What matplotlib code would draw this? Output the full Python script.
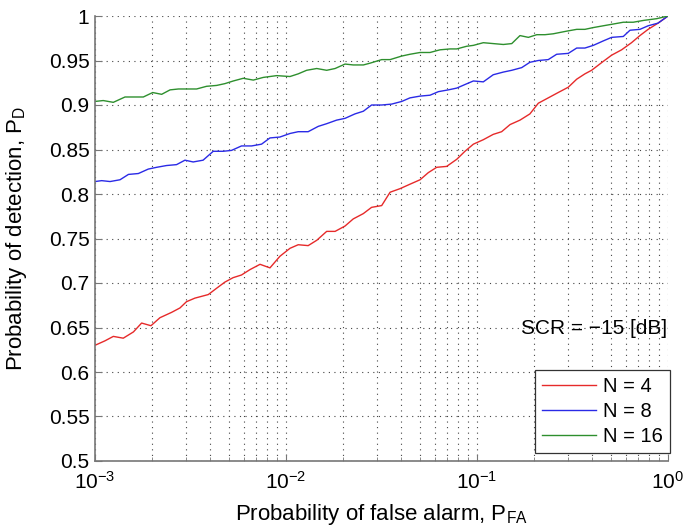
import matplotlib
matplotlib.use("Agg")
import matplotlib.pyplot as plt
import numpy as np
from matplotlib.ticker import LogLocator, FixedLocator, NullFormatter

plt.rcParams['font.family'] = ['Liberation Sans', 'DejaVu Sans']
plt.rcParams['mathtext.fontset'] = 'custom'
plt.rcParams['mathtext.rm'] = 'Liberation Sans'
plt.rcParams['mathtext.it'] = 'Liberation Sans'
plt.rcParams['mathtext.bf'] = 'Liberation Sans'

# log10(PFA) and PD
logp_n4 = [-3.000, -2.948, -2.904, -2.852, -2.799, -2.756, -2.707, -2.660, -2.599, -2.555,
           -2.521, -2.477, -2.407, -2.364, -2.320, -2.277, -2.233, -2.189, -2.136, -2.084,
           -2.032, -1.979, -1.936, -1.884, -1.839, -1.787, -1.743, -1.691, -1.648, -1.595,
           -1.552, -1.499, -1.455, -1.403, -1.351, -1.298, -1.255, -1.211, -1.159, -1.106,
           -1.063, -1.019, -0.967, -0.915, -0.871, -0.827, -0.775, -0.723, -0.679, -0.627,
           -0.575, -0.522, -0.478, -0.435, -0.400, -0.339, -0.295, -0.243, -0.191, -0.147,
           -0.104, -0.052, 0.0]
pd_n4 = [0.630, 0.635, 0.640, 0.638, 0.645, 0.655, 0.652, 0.661, 0.667, 0.672,
         0.679, 0.683, 0.687, 0.694, 0.701, 0.706, 0.709, 0.715, 0.721, 0.717,
         0.730, 0.739, 0.743, 0.742, 0.748, 0.758, 0.758, 0.764, 0.772, 0.778,
         0.785, 0.787, 0.802, 0.806, 0.811, 0.816, 0.824, 0.830, 0.831, 0.839,
         0.848, 0.856, 0.861, 0.867, 0.870, 0.878, 0.883, 0.890, 0.902, 0.908,
         0.914, 0.920, 0.929, 0.935, 0.939, 0.949, 0.956, 0.962, 0.970, 0.978,
         0.985, 0.992, 1.000]

logp_n8 = [-3.000, -2.965, -2.921, -2.869, -2.825, -2.773, -2.721, -2.677, -2.625, -2.573,
           -2.529, -2.486, -2.434, -2.381, -2.329, -2.285, -2.233, -2.180, -2.128, -2.084,
           -2.032, -1.979, -1.936, -1.884, -1.831, -1.787, -1.735, -1.691, -1.639, -1.595,
           -1.552, -1.499, -1.447, -1.394, -1.351, -1.298, -1.246, -1.202, -1.150, -1.106,
           -1.063, -1.019, -0.967, -0.915, -0.862, -0.818, -0.766, -0.723, -0.679, -0.627,
           -0.583, -0.522, -0.478, -0.435, -0.391, -0.339, -0.295, -0.234, -0.199, -0.147,
           -0.104, -0.052, 0.0]
pd_n8 = [0.814, 0.815, 0.814, 0.816, 0.822, 0.823, 0.828, 0.830, 0.832, 0.833,
         0.838, 0.836, 0.838, 0.848, 0.848, 0.849, 0.854, 0.854, 0.856, 0.863,
         0.864, 0.868, 0.870, 0.870, 0.876, 0.879, 0.883, 0.885, 0.890, 0.893,
         0.900, 0.900, 0.901, 0.904, 0.908, 0.910, 0.911, 0.915, 0.917, 0.919,
         0.923, 0.927, 0.926, 0.934, 0.937, 0.939, 0.942, 0.948, 0.950, 0.951,
         0.957, 0.958, 0.964, 0.964, 0.967, 0.972, 0.976, 0.977, 0.984, 0.985,
         0.989, 0.992, 1.000]

logp_n16 = [-3.000, -2.957, -2.904, -2.843, -2.799, -2.747, -2.698, -2.651, -2.607, -2.563,
            -2.520, -2.468, -2.416, -2.363, -2.320, -2.276, -2.224, -2.171, -2.119, -2.084,
            -2.049, -1.979, -1.936, -1.892, -1.839, -1.787, -1.743, -1.691, -1.648, -1.595,
            -1.560, -1.499, -1.455, -1.394, -1.351, -1.298, -1.246, -1.194, -1.141, -1.106,
            -1.054, -1.019, -0.967, -0.915, -0.862, -0.818, -0.775, -0.731, -0.687, -0.644,
            -0.601, -0.530, -0.478, -0.435, -0.391, -0.339, -0.286, -0.234, -0.182, -0.129,
            -0.059, 0.0]
pd_n16 = [0.904, 0.905, 0.903, 0.909, 0.909, 0.909, 0.914, 0.912, 0.917, 0.918,
          0.918, 0.918, 0.921, 0.922, 0.924, 0.927, 0.930, 0.928, 0.931, 0.932,
          0.933, 0.932, 0.935, 0.939, 0.941, 0.939, 0.941, 0.946, 0.945, 0.945,
          0.947, 0.951, 0.951, 0.955, 0.957, 0.959, 0.959, 0.962, 0.963, 0.963,
          0.966, 0.967, 0.970, 0.969, 0.968, 0.969, 0.978, 0.976, 0.979, 0.979,
          0.980, 0.983, 0.985, 0.985, 0.987, 0.989, 0.991, 0.993, 0.993, 0.995,
          0.997, 1.000]

labels = ['N = 4', 'N = 8', 'N = 16']
colors = ['#e62a2a', '#2a2ae6', '#2e8f2e']
y_ticks = [0.5, 0.55, 0.6, 0.65, 0.7, 0.75, 0.8, 0.85, 0.9, 0.95, 1.0]

fig = plt.figure(figsize=(6.85, 5.27), dpi=100)
ax = fig.add_axes([95 / 685, 1 - 461 / 527, 573 / 685, 445 / 527])

series = [(logp_n4, pd_n4), (logp_n8, pd_n8), (logp_n16, pd_n16)]
for (lp, pd), lab, c in zip(series, labels, colors):
    ax.plot(10 ** np.array(lp), pd, color=c, lw=1.0, label=lab)

ax.set_xscale('log')
ax.set_xlim(1e-3, 1)
ax.set_ylim(0.5, 1)
ax.yaxis.set_major_locator(FixedLocator(y_ticks))
ax.set_yticklabels(['%g' % v for v in y_ticks])
ax.xaxis.set_major_locator(LogLocator(base=10, numticks=10))
ax.xaxis.set_minor_locator(LogLocator(base=10, subs=np.arange(2, 10), numticks=10))
ax.xaxis.set_minor_formatter(NullFormatter())

ax.grid(True, which='major', linestyle=(0, (1, 4)), color='#444444', lw=0.8)
ax.grid(True, which='minor', axis='x', linestyle=(0, (1, 4)), color='#444444', lw=0.8)

for s in ['top', 'right']:
    ax.spines[s].set_visible(False)
for s in ['left', 'bottom']:
    ax.spines[s].set_color('#777777')
    ax.spines[s].set_linewidth(1.2)

ax.tick_params(which='both', direction='in', labelsize=15, color='#777777')
ax.tick_params(which='major', length=5)
ax.tick_params(axis='y', which='major', pad=4)
ax.tick_params(axis='x', which='major', pad=7)
ax.tick_params(which='minor', length=3)

ax.set_xlabel(r'Probability of false alarm, $\mathregular{P_{FA}}$', fontsize=16, labelpad=7)
ax.set_ylabel(r'Probability of detection, $\mathregular{P_D}$', fontsize=16, labelpad=14)

ax.text(0.998, 0.298, 'SCR = \u221215 [dB]', transform=ax.transAxes,
        ha='right', va='center', fontsize=15)

leg = ax.legend(loc='lower right', bbox_to_anchor=(1.003, 0.018), fontsize=14.5,
                fancybox=False, framealpha=1, edgecolor='#333333',
                handlelength=2.65, handletextpad=0.35, labelspacing=0.3,
                borderpad=0.35, borderaxespad=0)
leg.get_frame().set_linewidth(0.9)

fig.savefig('out.png', dpi=100)
